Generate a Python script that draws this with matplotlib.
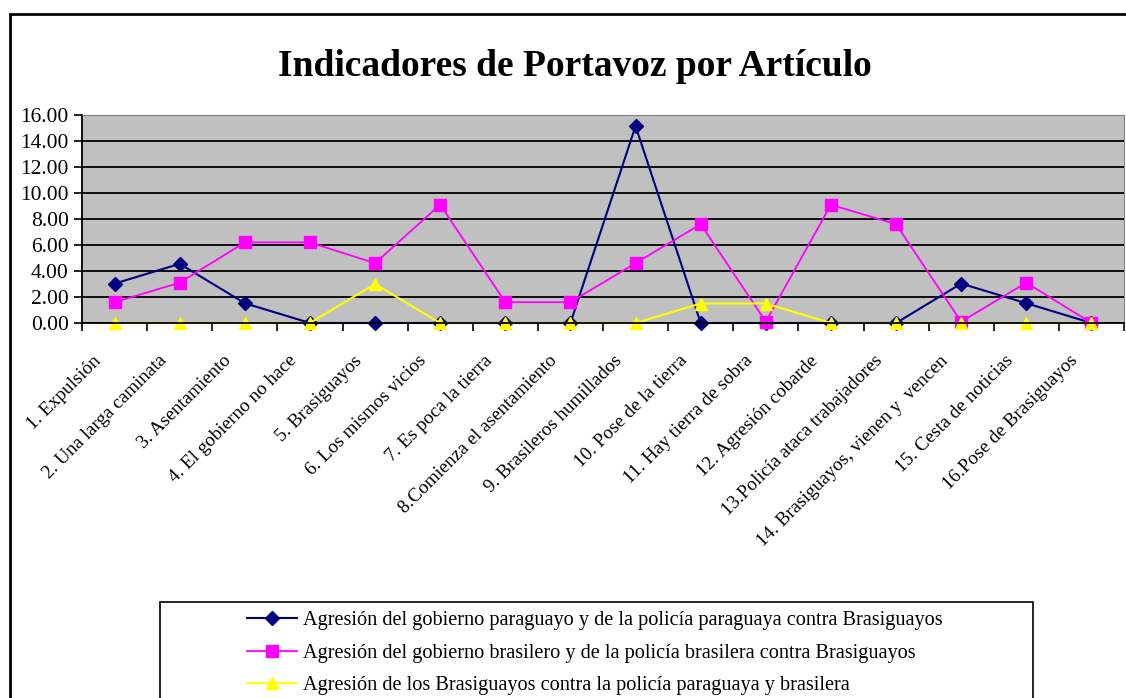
import matplotlib.pyplot as plt
import matplotlib.patches as patches
import matplotlib.transforms as mtransforms
import numpy as np

plt.rcParams['font.family'] = ['Liberation Serif', 'DejaVu Serif']

# categorías (artículos)
categorias = [
    "1. Expulsión", "2. Una larga caminata", "3. Asentamiento", "4. El gobierno no hace",
    "5. Brasiguayos", "6. Los mismos vicios", "7. Es poca la tierra",
    "8.Comienza el asentamiento", "9. Brasileros humillados", "10. Pose de la tierra",
    "11. Hay tierra de sobra", "12. Agresión cobarde", "13.Policía ataca trabajadores",
    "14. Brasiguayos, vienen y  vencen", "15. Cesta de noticias", "16.Pose de Brasiguayos",
]

paraguayo = [3.03, 4.55, 1.52, 0, 0, 0, 0, 0, 15.15, 0, 0, 0, 0, 3.03, 1.52, 0]
brasilero = [1.6, 3.1, 6.2, 6.2, 4.6, 9.1, 1.6, 1.6, 4.6, 7.6, 0.1, 9.1, 7.6, 0.1, 3.1, 0]
brasiguayos = [0, 0, 0, 0, 3.0, 0, 0, 0, 0, 1.5, 1.5, 0, 0, 0, 0, 0]

nombres = [
    "Agresión del gobierno paraguayo y de la policía paraguaya contra Brasiguayos",
    "Agresión del gobierno brasilero y de la policía brasilera contra Brasiguayos",
    "Agresión de los Brasiguayos contra la policía paraguaya y brasilera",
]

x = np.arange(len(categorias))

fig = plt.figure(figsize=(11.26, 6.98), dpi=100)
W, H = 1126, 698

# borde del área del gráfico
fig.patches.append(patches.Rectangle((10 / W, -0.05), 1.1, 1 - 14 / H + 0.05,
                                     transform=fig.transFigure, fill=False,
                                     edgecolor='black', linewidth=2))

fig.text(575 / W, 1 - 67 / H, "Indicadores de Portavoz por Artículo",
         ha='center', va='center', fontsize=27, fontweight='bold')

ax = fig.add_axes([82 / W, 1 - 323 / H, (1124 - 82) / W, (323 - 115) / H])
ax.set_facecolor('#C0C0C0')

l1, = ax.plot(x, paraguayo, color='#000080', marker='D', markersize=7, linewidth=1.5,
              label=nombres[0], clip_on=False)
l2, = ax.plot(x, brasilero, color='#FF00FF', marker='s', markersize=9, linewidth=1.3,
              label=nombres[1], clip_on=False)
l3, = ax.plot(x, brasiguayos, color='#FFFF00', marker='^', markersize=9, linewidth=1.5,
              label=nombres[2], clip_on=False)

ax.set_xlim(-0.5, len(categorias) - 0.5)
ax.set_ylim(0, 16)
ax.set_yticks(np.arange(0, 17, 2))
ax.set_yticklabels([f"{v:.2f}" for v in np.arange(0, 17, 2)], fontsize=15.5)
ax.yaxis.grid(True, color='black', linewidth=1.3)
ax.set_axisbelow(True)

ax.set_xticks(np.arange(-0.5, len(categorias), 1))
ax.set_xticklabels([])
ax.set_xticks(x, minor=True)
ax.set_xticklabels(categorias, minor=True, rotation=45, ha='right',
                   rotation_mode='anchor', fontsize=13.8)
ax.tick_params(axis='x', which='minor', length=0, pad=21)
ax.tick_params(axis='x', which='major', length=6, width=1.2, direction='out')
ax.tick_params(axis='y', length=6, width=1.2, direction='out')
desplazar = mtransforms.ScaledTranslation(-0.22, 0, fig.dpi_scale_trans)
for lab in ax.get_xticklabels(minor=True):
    lab.set_transform(lab.get_transform() + desplazar)

for s in ['left', 'bottom']:
    ax.spines[s].set_color('black')
    ax.spines[s].set_linewidth(1.3)
for s in ['top', 'right']:
    ax.spines[s].set_color('#808080')

# leyenda
fig.patches.append(patches.Rectangle((160 / W, -0.05), (1033 - 160) / W, 1 - 602 / H + 0.05,
                                     transform=fig.transFigure, fill=False,
                                     edgecolor='black', linewidth=1.2))
fig.legend(handles=[l1, l2, l3], loc='upper left', bbox_to_anchor=(247 / W, 1 - 611 / H),
           frameon=False, fontsize=14.6, handlelength=2.45, handletextpad=0.3,
           labelspacing=0.66, borderaxespad=0, borderpad=0)

fig.savefig("out.png", dpi=100)
